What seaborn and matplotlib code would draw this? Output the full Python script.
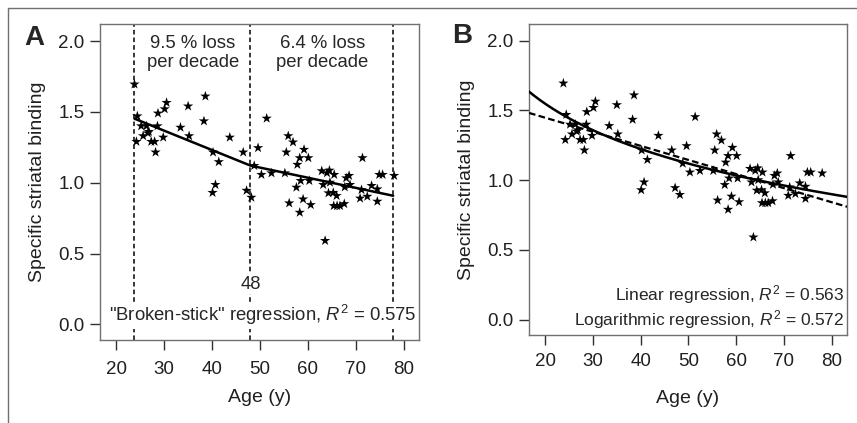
import numpy as np
import pandas as pd
import seaborn as sns
import matplotlib.pyplot as plt
from matplotlib.lines import Line2D

#------------------------------------------------
# subjects (same data in both panels)
age = [23.8, 24.4, 24.2, 25.2, 25.6, 26.3, 26.6, 26.8, 27.3, 28.0,
       28.2, 28.6, 28.7, 29.8, 30.1, 30.5, 33.4, 35.0, 35.2, 38.3,
       38.6, 40.2, 40.1, 40.7, 41.4, 43.7, 46.5, 47.2, 48.2, 48.8,
       49.6, 50.3, 51.4, 52.4, 55.2, 55.5, 55.9, 56.1, 56.9, 57.6,
       57.8, 58.3, 58.3, 58.5, 59.0, 59.2, 60.1, 60.3, 60.6, 62.9,
       63.2, 63.6, 64.0, 64.5, 65.5, 64.6, 64.3, 65.3, 66.0, 65.4,
       66.1, 66.7, 67.6, 68.0, 68.6, 67.7, 68.8, 71.2, 70.9, 72.4,
       73.3, 74.5, 74.5, 71.4, 74.9, 75.6, 78.0]
binding = [1.695, 1.47, 1.29, 1.40, 1.33, 1.40, 1.35, 1.36, 1.29, 1.29,
           1.215, 1.40, 1.49, 1.32, 1.52, 1.565, 1.39, 1.54, 1.33, 1.435,
           1.61, 1.215, 0.93, 0.986, 1.147, 1.32, 1.215, 0.945, 0.896, 1.12,
           1.246, 1.057, 1.454, 1.068, 1.068, 1.215, 1.33, 0.856, 1.286, 0.967,
           1.128, 1.175, 0.79, 1.014, 0.884, 1.234, 1.175, 1.014, 0.844, 1.083,
           0.986, 0.591, 1.069, 1.087, 1.057, 1.002, 0.927, 0.930, 0.908, 0.837,
           0.837, 0.837, 0.851, 1.033, 1.050, 0.969, 0.986, 0.950, 0.890, 0.903,
           0.979, 0.955, 0.868, 1.175, 1.057, 1.057, 1.050]

# broken-stick fit (panel A)
knot_age = [23.8, 48, 77.8]
knot_val = [1.452, 1.121, 0.908]
vlines = [23.8, 48, 77.8]

# panel B fits: y = a + b*x  and  y = a + b*ln(x)
lin_a, lin_b = 1.65, -0.0101
log_a, log_b = 2.95, -0.468

xlim = (16.6, 83.2)
ylim = (-0.11, 2.12)
yticks = [0.0, 0.5, 1.0, 1.5, 2.0]
xticks = [20, 30, 40, 50, 60, 70, 80]

#################################################
sns.set_style('ticks')
plt.rcParams['font.family'] = ['Liberation Sans', 'DejaVu Sans']
plt.rcParams['mathtext.fontset'] = 'custom'
plt.rcParams['mathtext.rm'] = 'Liberation Sans'
plt.rcParams['mathtext.it'] = 'Liberation Sans:italic'

df = pd.DataFrame({'age': age, 'binding': binding})
grey = '#707070'

fig = plt.figure(figsize=(8.57, 4.23), dpi=100)
ax1 = fig.add_axes([100/857, 1-340/423, 319/857, 316/423])
ax2 = fig.add_axes([529/857, 1-335/423, 318/857, 311/423])


def style_ax(ax, xpad, xlpad):
    ax.set_xlim(*xlim)
    ax.set_ylim(*ylim)
    ax.set_xticks(xticks)
    ax.set_yticks(yticks)
    ax.set_yticklabels([f'{v:.1f}' for v in yticks])
    for s in ax.spines.values():
        s.set_visible(True)
        s.set_color(grey)
        s.set_linewidth(1.0)
    ax.tick_params(axis='both', direction='out', length=7, width=1.0,
                   bottom=True, left=True, top=False, right=False,
                   color='#303030', labelsize=13.5, labelcolor='#202020')
    ax.tick_params(axis='y', pad=4)
    ax.tick_params(axis='x', pad=xpad)
    ax.set_xlabel('Age (y)', fontsize=14, labelpad=xlpad, color='#202020')
    ax.set_ylabel('Specific striatal binding', fontsize=14, labelpad=9, color='#202020')


#------------------------------------------------
# panel A
for x in vlines:
    ax1.axvline(x, color='black', lw=1.1, ls=(0, (3, 2)), zorder=1)
sns.lineplot(x=knot_age, y=knot_val, ax=ax1, color='black', lw=1.8, zorder=3)
sns.scatterplot(data=df, x='age', y='binding', ax=ax1, marker='*', s=60,
                color='black', edgecolor='none', zorder=4)
style_ax(ax1, 8, 8)
ax1.text(36, 1.915, '9.5 % loss\nper decade', ha='center', va='center',
         fontsize=13.3, linespacing=1.1)
ax1.text(63, 1.915, '6.4 % loss\nper decade', ha='center', va='center',
         fontsize=13.3, linespacing=1.1)
bb = dict(facecolor='white', edgecolor='none', pad=1)
ax1.text(48, 0.284, '48', ha='center', va='center', fontsize=13.3, bbox=bb, zorder=5)
ax1.text(0.51, 0.064, '"Broken-stick" regression, $R^2$ = 0.575',
         transform=ax1.get_yaxis_transform(), ha='center', va='center',
         fontsize=13.3, bbox=bb, zorder=5)

#------------------------------------------------
# panel B
xx = np.linspace(xlim[0], xlim[1], 200)
sns.lineplot(x=xx, y=lin_a + lin_b*xx, ax=ax2, color='black', lw=1.6,
             ls=(0, (3, 1.5)), zorder=3)
sns.lineplot(x=xx, y=log_a + log_b*np.log(xx), ax=ax2, color='black', lw=1.8, zorder=3)
sns.scatterplot(data=df, x='age', y='binding', ax=ax2, marker='*', s=60,
                color='black', edgecolor='none', zorder=4)
style_ax(ax2, 6, 14)
ax2.text(0.99, 0.18, 'Linear regression, $R^2$ = 0.563', transform=ax2.get_yaxis_transform(),
         ha='right', va='center', fontsize=12.5)
ax2.text(0.99, 0.0, 'Logarithmic regression, $R^2$ = 0.572', transform=ax2.get_yaxis_transform(),
         ha='right', va='center', fontsize=12.5)

#------------------------------------------------
# panel letters and figure frame
fig.text(34/857, 1-38/423, 'A', fontsize=20, weight='bold', ha='center', va='center')
fig.text(462/857, 1-36/423, 'B', fontsize=20, weight='bold', ha='center', va='center')
fig.add_artist(Line2D([8/857, 1], [1-8/423, 1-8/423], color=grey, lw=1))
fig.add_artist(Line2D([8/857, 8/857], [0, 1-8/423], color=grey, lw=1))

plt.savefig('out.png', dpi=100)
plt.close()
